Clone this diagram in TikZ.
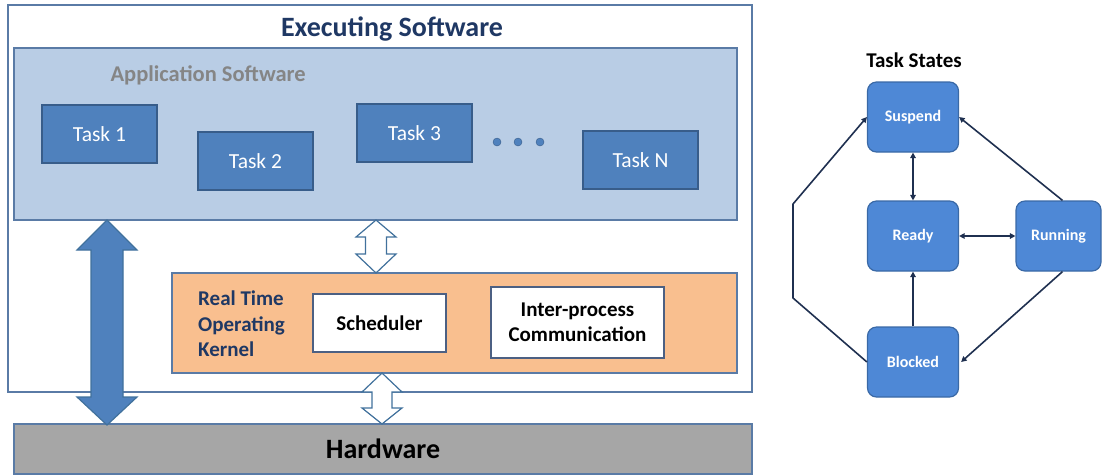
\documentclass[tikz,border=0pt]{standalone}
\usepackage{fontspec}
\setmainfont{Carlito}
\usetikzlibrary{arrows.meta,calc}
\definecolor{navy}{HTML}{1F3864}
\definecolor{frameblue}{HTML}{5A7BA6}
\definecolor{appfill}{HTML}{B9CDE5}
\definecolor{taskfill}{HTML}{4F81BD}
\definecolor{taskdraw}{HTML}{385D8A}
\definecolor{kernfill}{HTML}{F9BF8F}
\definecolor{hwfill}{HTML}{A6A6A6}
\definecolor{statefill}{HTML}{4E88D6}
\definecolor{statedraw}{HTML}{3A69A6}
\definecolor{arrowblue}{HTML}{4F81BD}
\definecolor{arrowdraw}{HTML}{41719C}
\definecolor{linkcol}{HTML}{1F3050}
\tikzset{
  box/.style={draw, rectangle, inner sep=0pt},
  taskbox/.style={box, fill=taskfill, draw=taskdraw, line width=1.2pt, minimum width=115pt, minimum height=58pt, text=white, font=\fontsize{21.5}{23}\selectfont},
  whitebox/.style={box, fill=white, draw=navy!80, line width=1.2pt, font=\bfseries\fontsize{21}{25}\selectfont, align=center},
  statebox/.style={box, rounded corners=9pt, fill=statefill, draw=statedraw, line width=1.2pt, minimum width=91pt, minimum height=70pt, text=white, font=\bfseries\fontsize{16}{18}\selectfont},
  link/.style={draw=linkcol, line width=1.6pt, -{Triangle[length=5.5pt,width=5.5pt]}},
  blink/.style={draw=linkcol, line width=1.6pt, {Triangle[length=5.5pt,width=5.5pt]}-{Triangle[length=5.5pt,width=5.5pt]}},
  bigarrow/.style={fill=arrowblue, draw=arrowdraw, line width=1.2pt, line join=miter},
  hollowarrow/.style={fill=white, draw=arrowdraw, line width=1.2pt, line join=miter},
}
\begin{document}
\begin{tikzpicture}[x=1pt,y=-1pt]
\useasboundingbox (0,0) rectangle (1102,475);
% outer box
\node[box, draw=frameblue, line width=1.2pt, minimum width=744pt, minimum height=387pt] (exec) at (380,198.5) {};
\node[font=\bfseries\fontsize{28}{30}\selectfont, text=navy] (title) at (392,29) {Executing Software};
% application software
\node[box, fill=appfill, draw=frameblue, line width=1.5pt, minimum width=723pt, minimum height=172pt] (app) at (375.5,134) {};
\node[font=\bfseries\fontsize{22.5}{24}\selectfont, text=black!48, anchor=west] (applbl) at (107,75) {Application Software};
\node[taskbox] (t1) at (99.5,134) {Task 1};
\node[taskbox] (t2) at (255.5,161) {Task 2};
\node[taskbox] (t3) at (414.5,133) {Task 3};
\node[taskbox] (tn) at (640.5,160) {Task N};
\foreach \i/\x in {1/497,2/518,3/540}
  \node[circle, fill=taskfill, draw=taskdraw, inner sep=0pt, minimum size=8pt] (dot\i) at (\x,142) {};
% kernel
\node[box, fill=kernfill, draw=frameblue, line width=1.5pt, minimum width=565pt, minimum height=100pt] (kern) at (454.5,323) {};
\node[anchor=west, align=left, text=navy, font=\bfseries\fontsize{21}{25.5}\selectfont, inner sep=0pt] (kernlbl) at (198,324) {Real Time\\Operating\\Kernel};
\node[whitebox, minimum width=133pt, minimum height=58pt] (sched) at (379.5,323) {Scheduler};
\node[whitebox, minimum width=173pt, minimum height=71pt] (ipc) at (577.5,322.5) {Inter-process\\Communication};
% hardware
\node[box, fill=hwfill, draw=frameblue, line width=1.5pt, minimum width=738pt, minimum height=50pt, font=\bfseries\fontsize{28}{30}\selectfont] (hw) at (383,449) {Hardware};
% big double arrow (application <-> hardware)
\draw[bigarrow] (107,220) -- (137,250) -- (123,250) -- (123,397) -- (137,397) -- (107,425) -- (77,397) -- (91,397) -- (91,250) -- (77,250) -- cycle;
% hollow arrow app <-> kernel
\draw[hollowarrow] (376,220) -- (396,237) -- (386.5,237) -- (386.5,254) -- (396,254) -- (376,273) -- (356,254) -- (365.5,254) -- (365.5,237) -- (356,237) -- cycle;
% hollow arrow kernel <-> hardware
\draw[hollowarrow] (382,373) -- (402,392) -- (392,392) -- (392,408) -- (402,408) -- (382,424) -- (362,408) -- (372,408) -- (372,392) -- (362,392) -- cycle;
% task states
\node[font=\bfseries\fontsize{21}{23}\selectfont] (ts) at (914,60) {Task States};
\node[statebox] (susp) at (913,117) {Suspend};
\node[statebox] (ready) at (913,236) {Ready};
\node[statebox, minimum width=85pt] (run) at (1058.5,236) {Running};
\node[statebox] (blk) at (913,362) {Blocked};
\coordinate (lb) at (793,298);
\coordinate (lt) at (793,204);
\draw[blink] (susp.south) -- (ready.north);
\draw[blink] (ready.east) -- (run.west);
\draw[link] (blk.north) -- (ready.south);
\draw[link] ($(run.north)+(4,0)$) -- (susp.east);
\draw[link] ($(run.south)+(4,0)$) -- ($(blk.east)+(2,0)$);
\draw[link, line join=round] (blk.west) -- (lb) -- (lt) -- (susp.west);
\end{tikzpicture}
\end{document}
